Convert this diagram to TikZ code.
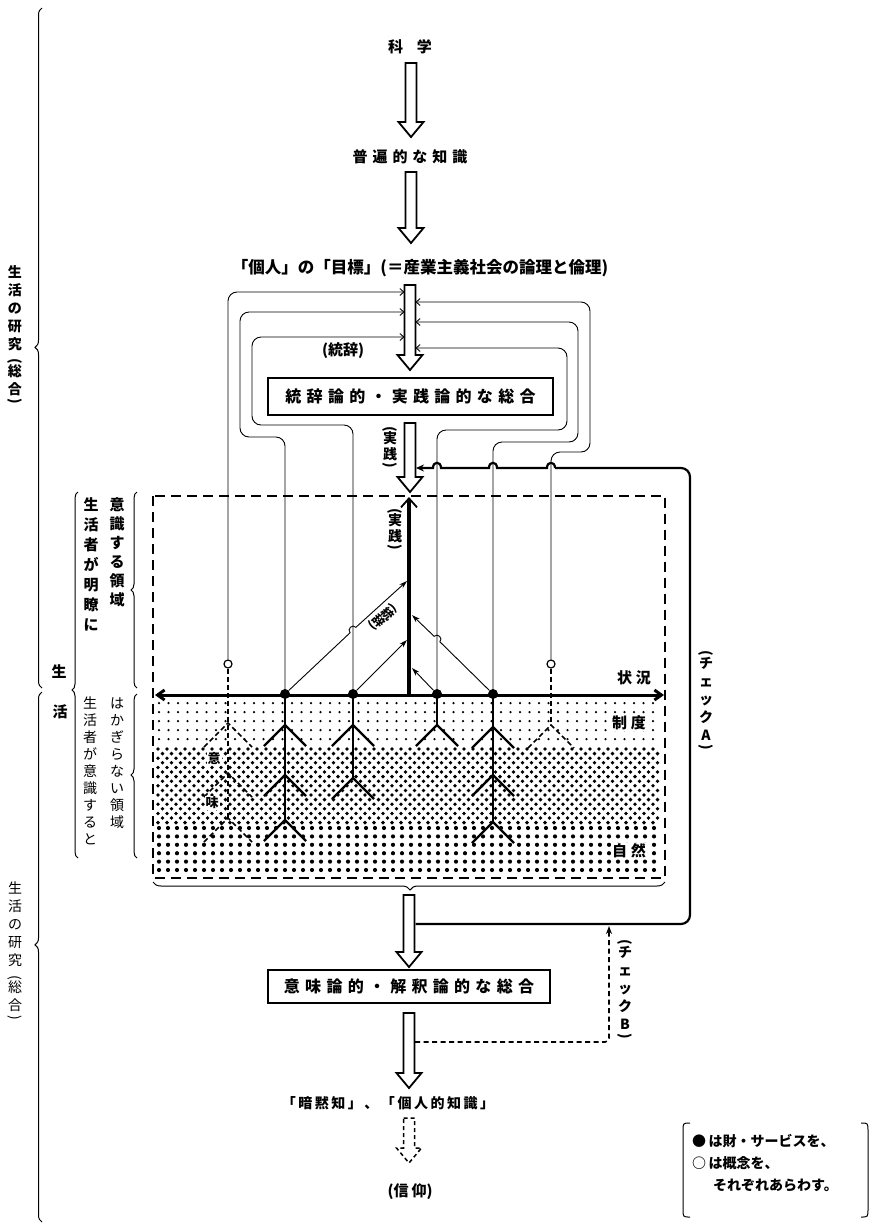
\documentclass[tikz,border=0pt]{standalone}
\usepackage{fontspec}
\usepackage{graphicx}
\usetikzlibrary{arrows.meta,decorations.pathreplacing,calc}
\newfontfamily\jp{Noto Sans CJK JP}
\newfontfamily\jpsp[LetterSpace=33]{Noto Sans CJK JP}
\newfontfamily\jpss[LetterSpace=18]{Noto Sans CJK JP}
\newcommand\vpo{\rotatebox[origin=c]{-90}{(}}
\newcommand\vpc{\rotatebox[origin=c]{-90}{)}}
\newcommand\harrow[4][]{%
  \draw[line width=1.8pt, line join=miter, fill=white, #1] (#2-5.5,#3) -- (#2+5.5,#3) -- (#2+5.5,#4-15) -- (#2+12.5,#4-15) -- (#2,#4) -- (#2-12.5,#4-15) -- (#2-5.5,#4-15) -- cycle;}
\newcommand\stickV[4]{\draw[#1] (#2-#4,#3+#4) -- (#2,#3) -- (#2+#4,#3+#4);}
\begin{document}
\begin{tikzpicture}[x=1pt,y=-1pt,
  thinl/.style={line width=0.9pt},
  fig/.style={line width=2.3pt},
  dfig/.style={line width=1.6pt, dash pattern=on 5pt off 3pt},
  lbl/.style={font=\jp\bfseries\fontsize{15}{18}\selectfont, inner sep=0pt},
  lbls/.style={font=\jpsp\bfseries\fontsize{15}{18}\selectfont, inner sep=0pt},
  vl/.style={align=center, inner sep=0pt, font=\jp\bfseries\fontsize{15}{19}\selectfont},
  boxn/.style={draw, line width=2.4pt, inner sep=0pt, font=\jpsp\bfseries\fontsize{16}{18}\selectfont},
  brc/.style={decorate, line width=1pt},
  barb/.style={-{Straight Barb[length=4pt,width=7pt]}},
  dotn/.style={circle, fill, inner sep=0pt, minimum size=10pt},
  circn/.style={circle, draw, line width=1.2pt, fill=white, inner sep=0pt, minimum size=8pt}]
\useasboundingbox (0,0) rectangle (872,1227);
\fill[white] (0,0) rectangle (872,1227);

% ---------- dot pattern ----------
\foreach \r in {0,...,4} {\foreach \c in {0,...,52} {\fill (159+\c*9.5, 703+\r*9.0) circle[radius=1.25];}}
\foreach \r in {0,...,16} {\pgfmathsetmacro\off{mod(\r,2)*4.5}
  \foreach \c in {0,...,55} {\fill (158+\off+\c*9, 749+\r*4.6) circle[radius=1.9];}}
\foreach \r in {0,...,5} {\foreach \c in {0,...,55} {\fill (159+\c*9, 828+\r*8.4) circle[radius=2.1];}}

% ---------- top texts and arrows ----------
\node[lbl] (kagaku) at (410,47) {科\hspace{14pt}学};
\harrow{411}{63}{137}
\node[lbls] (fuhen) at (410,157) {普遍的な知識};
\harrow{411}{172}{243}
\node[lbl, font=\jp\bfseries\fontsize{16.5}{18}\selectfont] (mokuhyo) at (420,268) {「個人」の「目標」(＝産業主義社会の論理と倫理)};
\harrow{410}{285}{370}
\node[lbl] (togo) at (343,351) {(統辞)};
\node[boxn, minimum width=285pt, minimum height=37pt] (box1) at (410.5,396.5) {統辞論的・実践論的な総合};
\harrow{410}{423}{492}
\node[vl, font=\jp\bfseries\fontsize{14}{16}\selectfont] (jissen1) at (390,448) {\vpo\\[-6pt]実\\践\\[-6pt]\vpc};

% ---------- figure nodes ----------
\node[circn] (c6) at (228,664) {};
\node[circn] (c5) at (551,664) {};
\coordinate (p1) at (285,694);
\coordinate (p2) at (353,694);
\coordinate (p3) at (437,694);
\coordinate (p4) at (493,694);

% ---------- feedback loops ----------
\draw[thinl, rounded corners=9pt, barb] (c6.north) -- (228,292) -- (404.5,292);
\draw[thinl, rounded corners=9pt, barb] (p1) -- (285,437) -- (240,437) -- (240,312) -- (404.5,312);
\draw[thinl, rounded corners=9pt, barb] (p2) -- (353,425) -- (252,425) -- (252,337) -- (404.5,337);
\draw[thinl, rounded corners=9pt, barb] (c5.north) -- (551,452) -- (590,452) -- (590,302) -- (415.5,302);
\draw[thinl, rounded corners=9pt, barb] (p4) -- (493,442) -- (578,442) -- (578,322) -- (415.5,322);
\draw[thinl, rounded corners=9pt, barb] (p3) -- (437,430) -- (567,430) -- (567,348) -- (415.5,348);

% ---------- dashed region ----------
\draw[line width=2.2pt, dash pattern=on 10pt off 6pt] (153,496) rectangle (665,878);
\draw[line width=3pt, {Straight Barb[length=7pt,width=10pt]}-{Straight Barb[length=7pt,width=10pt]}] (155,695) -- (664,695);
\draw[line width=3.5pt, -{Straight Barb[length=9pt,width=16pt,line width=1.8pt]}] (409,696) -- (409,497);
\node[vl, font=\jp\bfseries\fontsize{14}{16}\selectfont] (jissen2) at (395,530) {\vpo\\[-6pt]実\\践\\[-6pt]\vpc};

% stick figures
\draw[fig] (p1) -- (285,820);
\stickV{fig}{285}{725}{21}\stickV{fig}{285}{775}{21}\stickV{fig}{285}{820}{21}
\draw[fig] (p2) -- (353,778);
\stickV{fig}{353}{725}{21}\stickV{fig}{353}{778}{21}
\draw[fig] (p3) -- (437,725);
\stickV{fig}{437}{725}{21}
\draw[fig] (p4) -- (493,822);
\stickV{fig}{493}{727}{21}\stickV{fig}{493}{775}{21}\stickV{fig}{493}{822}{21}
\draw[dfig] (c6.south) -- (228,818);
\stickV{dfig}{228}{723}{24}\stickV{dfig}{228}{773}{24}\stickV{dfig}{228}{818}{24}
\draw[dfig] (c5.south) -- (551,725);
\stickV{dfig}{551}{725}{23}
\node[dotn] (d1) at (p1) {};
\node[dotn] (d2) at (p2) {};
\node[dotn] (d3) at (p3) {};
\node[dotn] (d4) at (p4) {};

% arrows from figures to axis
\draw[thinl, -{Stealth[length=8pt,width=5pt]}] (d1) -- (350.1,632.7) .. controls (346.7,629.0) and (352.5,623.6) .. (355.9,627.3) -- (407,581);
\draw[thinl, -{Stealth[length=8pt,width=5pt]}] (d2) -- (407,640);
\draw[thinl, -{Stealth[length=8pt,width=5pt]}] (d3) -- (412,668);
\draw[thinl, -{Stealth[length=8pt,width=5pt]}] (d4) -- (439.9,641.8) .. controls (443.4,638.2) and (437.6,632.7) .. (434.1,636.3) -- (412,615);
\node[lbl, font=\jp\bfseries\fontsize{12}{14}\selectfont, rotate=-138, fill=white, inner sep=1pt] (togo2) at (383,617) {(\rotatebox[origin=c]{90}{統}\rotatebox[origin=c]{90}{辞})};

% labels in the region
\node[lbl, fill=white, inner sep=1pt] (jokyo) at (634,678) {状\hspace{4pt}況};
\node[lbl, fill=white, inner sep=1pt] (seido) at (629,723) {制\hspace{4pt}度};
\node[lbl, fill=white, inner sep=1pt] (shizen) at (629,851) {自\hspace{4pt}然};
\node[lbl, fill=white, inner sep=1pt, font=\jp\bfseries\fontsize{13}{15}\selectfont] (imi1) at (214,758) {意};
\node[lbl, fill=white, inner sep=1pt, font=\jp\bfseries\fontsize{13}{15}\selectfont] (imi2) at (212,803) {味};

% ---------- check A ----------
\draw[line width=2.2pt, rounded corners=9pt] (415.5,924) -- (690,924) -- (690,468) -- (555,468);
\draw[line width=2.2pt, -{Stealth[length=8pt,width=7pt]}] (555,468) .. controls (555,461) and (547,461) .. (547,468) -- (497,468) .. controls (497,461) and (489,461) .. (489,468) -- (441,468) .. controls (441,461) and (433,461) .. (433,468) -- (416,468);
\node[vl, font=\jp\bfseries\fontsize{14}{18}\selectfont] (checkA) at (706,701) {\vpo\\[-7pt]チ\\ェ\\ッ\\ク\\A\\[-7pt]\vpc};

% ---------- bottom ----------
\draw[brc, decoration={brace, amplitude=8pt, aspect=0.498}] (665,882) -- (153,882);
\harrow{409}{895}{967}
\node[boxn, minimum width=282pt, minimum height=33pt] (box2) at (409,986.5) {意味論的・解釈論的な総合};
\harrow{409}{1013}{1088}
\draw[line width=1.6pt, dash pattern=on 5pt off 3.5pt, rounded corners=4pt, -{Stealth[length=8pt,width=6pt]}] (415,1042) -- (609,1042) -- (609,926);
\node[vl, font=\jp\bfseries\fontsize{14}{18}\selectfont] (checkB) at (625,990) {\vpo\\[-7pt]チ\\ェ\\ッ\\ク\\B\\[-7pt]\vpc};
\node[lbl, font=\jpss\bfseries\fontsize{14}{18}\selectfont] (anmoku) at (388,1103) {「暗黙知」、「個人的知識」};
\harrow[dash pattern=on 4pt off 3pt, line width=1.5pt]{409}{1118}{1163}
\node[lbl] (shinko) at (410,1192) {(信\hspace{3pt}仰)};

% legend
\draw[line width=1pt] (690,1123) .. controls (683,1123) .. (683,1131) -- (683,1209) .. controls (683,1217) .. (690,1217);
\draw[line width=1pt] (861,1123) .. controls (868,1123) .. (868,1131) -- (868,1209) .. controls (868,1217) .. (861,1217);
\node[lbl, anchor=west, font=\jp\bfseries\fontsize{14}{18}\selectfont] (lg1) at (692,1141) {●\,は財・サービスを、};
\node[lbl, anchor=west, font=\jp\bfseries\fontsize{14}{18}\selectfont] (lg2) at (692,1163) {○\,は概念を、};
\node[lbl, anchor=west, font=\jp\bfseries\fontsize{14}{18}\selectfont] (lg3) at (713,1185) {それぞれあらわす。};

% ---------- left braces ----------
\draw[brc, decoration={brace, amplitude=7pt, aspect=0.501}] (42,688) -- (42,8);
\draw[brc, decoration={brace, amplitude=7pt, aspect=0.523}] (42,1222) -- (42,692);
\draw[brc, decoration={brace, amplitude=6pt, aspect=0.459}] (78,858) -- (78,492);
\draw[brc, decoration={brace, amplitude=6pt, aspect=0.5}] (137,688) -- (137,492);
\draw[brc, decoration={brace, amplitude=6pt, aspect=0.506}] (137,858) -- (137,694);
\node[vl, font=\jp\bfseries\fontsize{14}{18}\selectfont] (ken1) at (15,336) {生\\活\\の\\研\\究\\[-2pt]\vpo\\[-7pt]総\\合\\[-7pt]\vpc};
\node[vl, font=\jp\fontsize{14}{18}\selectfont] (ken2) at (15,952) {生\\活\\の\\研\\究\\[-2pt]\vpo\\[-7pt]総\\合\\[-7pt]\vpc};
\node[lbl] (sei) at (59,672) {生};
\node[lbl] (katsu) at (60,712) {活};
\node[vl, font=\jp\bfseries\fontsize{15}{20}\selectfont, anchor=north] (meiryo) at (91,497) {生\\活\\者\\が\\明\\瞭\\に};
\node[vl, font=\jp\bfseries\fontsize{15}{19}\selectfont, anchor=north] (ishiki) at (117,497) {意\\識\\す\\る\\領\\域};
\node[vl, font=\jp\fontsize{14}{17}\selectfont, anchor=north] (ishiki2) at (90,697) {生\\活\\者\\が\\意\\識\\す\\る\\と};
\node[vl, font=\jp\fontsize{14}{17}\selectfont, anchor=north] (kagiranai) at (117,697) {は\\か\\ぎ\\ら\\な\\い\\領\\域};
\end{tikzpicture}
\end{document}
